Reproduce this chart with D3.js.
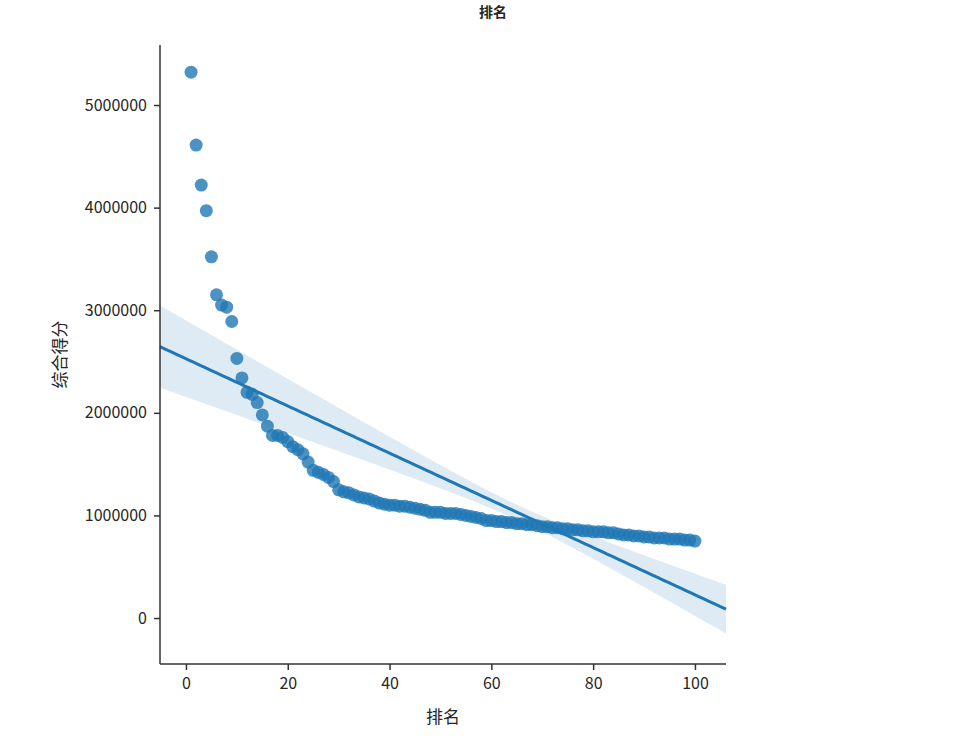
<!DOCTYPE html>
<html><head><meta charset="utf-8">
<script src="https://cdn.jsdelivr.net/npm/d3@7"></script>
<style>
body{margin:0;background:#fff;}
text{font-family:"Noto Sans CJK SC","Noto Sans",sans-serif;fill:#262626;}
</style></head>
<body><svg id="c" width="978" height="746"></svg>
<script>
const titleText = "排名";
const xLabel = "排名";
const yLabel = "综合得分";
const ranks = d3.range(1, 101);
const scores = [
5320000,4610000,4220000,3970000,3520000,3150000,3050000,3030000,2890000,2530000,
2340000,2200000,2180000,2100000,1980000,1870000,1780000,1780000,1760000,1720000,
1670000,1640000,1600000,1520000,1440000,1420000,1400000,1370000,1330000,1250000,
1230000,1220000,1200000,1180000,1170000,1160000,1140000,1120000,1110000,1100000,
1100000,1090000,1090000,1080000,1070000,1060000,1050000,1030000,1030000,1030000,
1020000,1020000,1020000,1010000,1000000,990000,980000,970000,950000,950000,
940000,940000,930000,930000,920000,920000,910000,910000,900000,890000,
890000,880000,880000,870000,870000,860000,860000,850000,850000,840000,
840000,840000,830000,830000,820000,810000,810000,800000,800000,790000,
790000,780000,780000,780000,770000,770000,770000,760000,760000,750000];
const xTicks = [0,20,40,60,80,100];
const yTicks = [0,1000000,2000000,3000000,4000000,5000000];

const svg = d3.select("#c");
const L=160, R=726, T=45, B=664;
const x = d3.scaleLinear().domain([-5.1, 106.1]).range([L, R]);
const y = d3.scaleLinear().domain([-448000, 5585000]).range([B, T]);
const color = "#1f77b4";

// regression (OLS) with heteroscedasticity-consistent CI
const n = ranks.length;
const mx = d3.mean(ranks), my = d3.mean(scores);
let sxx=0, sxy=0;
for(let i=0;i<n;i++){sxx+=(ranks[i]-mx)**2; sxy+=(ranks[i]-mx)*(scores[i]-my);}
const b1 = sxy/sxx, b0 = my - b1*mx;
let s1=n, sx=d3.sum(ranks), sx2=d3.sum(ranks,v=>v*v);
const det = s1*sx2 - sx*sx;
const inv = [[sx2/det, -sx/det],[-sx/det, s1/det]];
let M=[[0,0],[0,0]];
for(let i=0;i<n;i++){
  const e = scores[i]-(b0+b1*ranks[i]); const e2=e*e; const xi=ranks[i];
  M[0][0]+=e2; M[0][1]+=e2*xi; M[1][0]+=e2*xi; M[1][1]+=e2*xi*xi;
}
function mul(A,B){return [[A[0][0]*B[0][0]+A[0][1]*B[1][0],A[0][0]*B[0][1]+A[0][1]*B[1][1]],[A[1][0]*B[0][0]+A[1][1]*B[1][0],A[1][0]*B[0][1]+A[1][1]*B[1][1]]];}
const cov = mul(mul(inv,M),inv);
const grid = d3.range(0,101).map(i=>x.domain()[0]+(x.domain()[1]-x.domain()[0])*i/100);
const band = grid.map(g=>{
  const v = cov[0][0]+2*g*cov[0][1]+g*g*cov[1][1];
  const yh=b0+b1*g, h=1.96*Math.sqrt(v);
  return {g, lo:yh-h, hi:yh+h, yh};
});

const plot = svg.append("g");
plot.append("path").datum(band)
  .attr("d", d3.area().x(d=>x(d.g)).y0(d=>y(d.lo)).y1(d=>y(d.hi)))
  .attr("fill", color).attr("fill-opacity", 0.15);

plot.selectAll("circle").data(ranks).join("circle")
  .attr("cx", (d)=>x(d)).attr("cy", (d,i)=>y(scores[i])).attr("r", 6.5)
  .attr("fill", color).attr("fill-opacity", 0.8);

plot.append("path").datum(band)
  .attr("d", d3.line().x(d=>x(d.g)).y(d=>y(d.yh)))
  .attr("fill","none").attr("stroke", color).attr("stroke-width", 3);

const xa = svg.append("g").attr("transform",`translate(0,${B})`)
  .call(d3.axisBottom(x).tickValues(xTicks).tickSize(6).tickPadding(8).tickFormat(d3.format("d")));
const ya = svg.append("g").attr("transform",`translate(${L},0)`)
  .call(d3.axisLeft(y).tickValues(yTicks).tickSize(6).tickPadding(7).tickFormat(d3.format("d")));
[xa,ya].forEach(a=>{
  a.select(".domain").attr("stroke","#333").attr("stroke-width",1.5);
  a.selectAll(".tick line").attr("stroke","#333").attr("stroke-width",1.5);
  a.selectAll(".tick text").attr("font-size",16).attr("fill","#262626")
   .style("font-family",'"Noto Sans CJK SC",sans-serif');
});
xa.select(".domain").attr("d",`M${L},0H${R}`);
ya.select(".domain").attr("d",`M0,${T}V${B}`);

svg.append("text").attr("x", (L+R)/2).attr("y", 723).attr("text-anchor","middle")
  .attr("font-size",17).text(xLabel);
svg.append("text").attr("transform",`translate(66,${(T+B)/2}) rotate(-90)`)
  .attr("text-anchor","middle").attr("font-size",17).text(yLabel);
svg.append("text").attr("x", 493).attr("y", 17).attr("text-anchor","middle")
  .attr("font-size",14).attr("font-weight","bold").text(titleText);
</script></body></html>
